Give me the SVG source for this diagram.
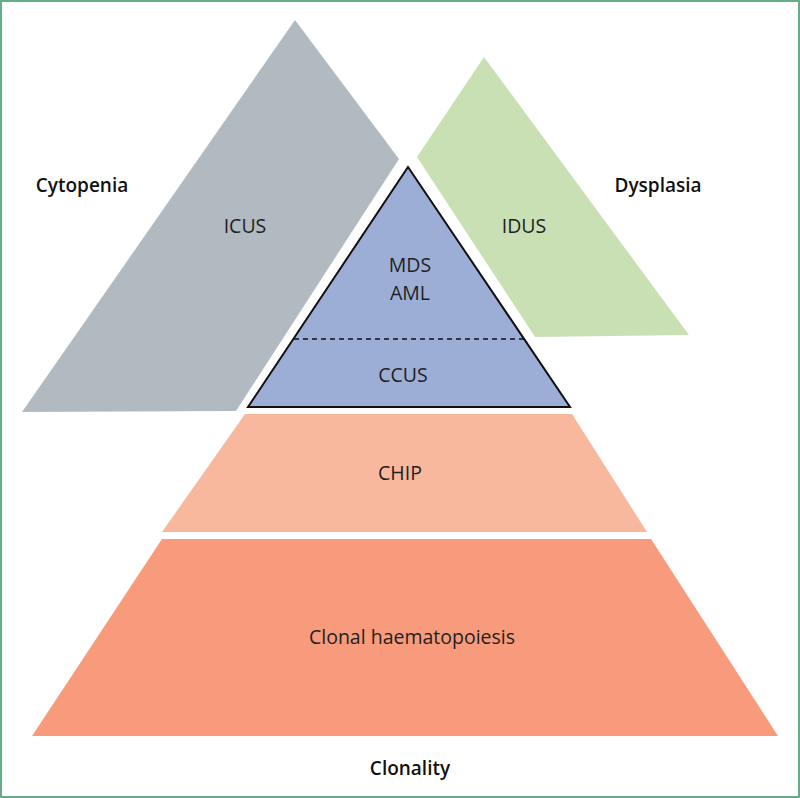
<svg xmlns="http://www.w3.org/2000/svg" width="800" height="798" viewBox="0 0 800 798">
<style>
.lbl{font-family:"Open Sans","Noto Sans","Liberation Sans",sans-serif;font-size:19.5px;fill:#231f20;text-anchor:middle}
.hd{font-family:"Open Sans","Noto Sans","Liberation Sans",sans-serif;font-size:19px;font-weight:600;fill:#111;text-anchor:middle}
</style>
<rect x="1" y="1" width="798" height="796" fill="#fff" stroke="#66ad8c" stroke-width="2"/>
<g id="icus">
<polygon points="295,20 399,159 236,411 22,412" fill="#b2bac1"/>
<text class="lbl" x="245" y="233">ICUS</text>
</g>
<g id="idus">
<polygon points="484,57 689,335 535,337 417,157" fill="#c9e0b5"/>
<text class="lbl" x="524" y="233">IDUS</text>
</g>
<g id="mds">
<polygon points="408,167 570,407 248,407" fill="#9daed6" stroke="#111" stroke-width="2" stroke-linejoin="miter"/>
<line x1="294" y1="339" x2="524" y2="339" stroke="#111" stroke-width="1.5" stroke-dasharray="5,4"/>
<text class="lbl" x="410" y="272">MDS</text>
<text class="lbl" x="410" y="300">AML</text>
<text class="lbl" x="403" y="382">CCUS</text>
</g>
<g id="chip">
<polygon points="245,414 572,414 647,532 162,532" fill="#f8b89e"/>
<text class="lbl" x="400" y="480">CHIP</text>
</g>
<g id="clonal">
<polygon points="162,539 651,539 778,736 32,736" fill="#f79b7c"/>
<text class="lbl" x="412" y="644">Clonal haematopoiesis</text>
</g>
<g id="labels">
<text class="hd" x="82" y="192">Cytopenia</text>
<text class="hd" x="658" y="192">Dysplasia</text>
<text class="hd" x="410" y="775">Clonality</text>
</g>
<g id="connectors"/>
</svg>
